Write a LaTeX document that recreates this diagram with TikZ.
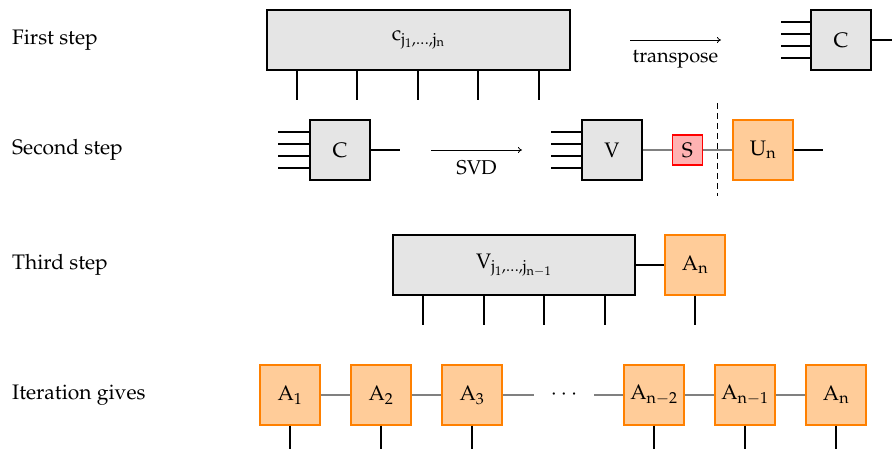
\documentclass[tikz,border=0pt]{standalone}
\usepackage[T1]{fontenc}
\usepackage{mathpazo}
\usetikzlibrary{arrows.meta}
\newcommand{\ur}[1]{\mathrm{#1}}
\tikzset{
  lbl/.style={anchor=west, inner sep=0pt, font=\fontsize{21}{25}\selectfont},
  boxfont/.style={font=\fontsize{21}{25}\selectfont},
  graybox/.style={draw=black, fill=gray!20, line width=1.2pt, inner sep=0pt, boxfont},
  orbox/.style={draw=orange, fill=orange!40, line width=1.2pt, inner sep=0pt, minimum size=60pt, boxfont},
  sbox/.style={draw=red, fill=red!30, line width=1.2pt, inner sep=0pt, minimum size=30pt, boxfont},
  sq/.style={minimum size=60pt},
  leg/.style={draw=black, line width=1.2pt},
  link/.style={draw=gray, line width=1.2pt},
  arr/.style={draw=black, line width=0.8pt, -{To[length=4pt,width=6pt]}},
  arrlbl/.style={font=\fontsize{20}{24}\selectfont, inner sep=3pt, yshift=-7pt}
}
\begin{document}
\begin{tikzpicture}[x=1pt,y=-1pt]
\useasboundingbox (0,0) rectangle (892,448);
% row labels
\node[lbl] (l1) at (12,40) {First step};
\node[lbl] (l2) at (12,150) {Second step};
\node[lbl] (l3) at (12,265) {Third step};
\node[lbl] (l4) at (12,395) {Iteration gives};

% ---- Row 1
\node[graybox, minimum width=303pt, minimum height=60pt] (cbig) at (418.5,40) {$\ur{c}_{\ur{j}_1,\dots,\ur{j}_{\ur{n}}}$};
\foreach \x [count=\i] in {297,357,418,478,539} {
  \coordinate (cl\i) at (\x,100);
  \draw[leg] (cl\i |- cbig.south) -- (cl\i);
}
\coordinate (ta) at (630,40);
\coordinate (tb) at (721,40);
\draw[arr] (ta) -- node[below, arrlbl] {transpose} (tb);
\node[graybox, sq] (C1) at (841,40) {C};
\foreach \dy [count=\i] in {-18,-6,6,18} {
  \coordinate (c1l\i) at (781,40+\dy);
  \draw[leg] (c1l\i) -- (c1l\i -| C1.west);
}
\coordinate (c1r) at (892,40);
\draw[leg] (C1.east) -- (c1r);

% ---- Row 2
\node[graybox, sq] (C2) at (340,150) {C};
\foreach \dy [count=\i] in {-18,-6,6,18} {
  \coordinate (c2l\i) at (278,150+\dy);
  \draw[leg] (c2l\i) -- (c2l\i -| C2.west);
}
\coordinate (c2r) at (400,150);
\draw[leg] (C2.east) -- (c2r);
\coordinate (sa) at (431,150);
\coordinate (sb) at (522,150);
\draw[arr] (sa) -- node[below, arrlbl] {SVD} (sb);
\node[graybox, sq] (V2) at (612,150) {V};
\foreach \dy [count=\i] in {-18,-6,6,18} {
  \coordinate (v2l\i) at (551,150+\dy);
  \draw[leg] (v2l\i) -- (v2l\i -| V2.west);
}
\node[sbox] (S) at (687.5,150) {S};
\node[orbox] (U) at (763,150) {$\ur{U}_{\ur{n}}$};
\draw[link] (V2.east) -- (S.west);
\draw[link] (S.east) -- (U.west);
\coordinate (ur) at (823,150);
\draw[leg] (U.east) -- (ur);
\coordinate (da) at (717,103);
\coordinate (db) at (717,196);
\draw[black, line width=1pt, dash pattern=on 6pt off 4pt] (da) -- (db);

% ---- Row 3
\node[graybox, minimum width=242pt, minimum height=60pt] (Vbig) at (514,265) {$\ur{V}_{\ur{j}_1,\dots,\ur{j}_{\ur{n}-1}}$};
\foreach \x [count=\i] in {423,484,544,605} {
  \coordinate (vl\i) at (\x,325);
  \draw[leg] (vl\i |- Vbig.south) -- (vl\i);
}
\node[orbox] (An3) at (695,265) {$\ur{A}_{\ur{n}}$};
\draw[leg] (Vbig.east) -- (An3.west);
\coordinate (an3l) at (695,325);
\draw[leg] (An3.south) -- (an3l);

% ---- Row 4
\node[orbox] (A1) at (290,395) {$\ur{A}_1$};
\node[orbox] (A2) at (381,395) {$\ur{A}_2$};
\node[orbox] (A3) at (472,395) {$\ur{A}_3$};
\node[inner sep=0pt, boxfont] (dots) at (564,395) {$\cdots$};
\node[orbox] (Am2) at (654,395) {$\ur{A}_{\ur{n}-2}$};
\node[orbox] (Am1) at (745,395) {$\ur{A}_{\ur{n}-1}$};
\node[orbox] (An) at (836,395) {$\ur{A}_{\ur{n}}$};
\draw[link] (A1.east) -- (A2.west);
\draw[link] (A2.east) -- (A3.west);
\coordinate (d1) at (534,395);
\coordinate (d2) at (594,395);
\draw[link] (A3.east) -- (d1);
\draw[link] (d2) -- (Am2.west);
\draw[link] (Am2.east) -- (Am1.west);
\draw[link] (Am1.east) -- (An.west);
\foreach \n in {A1,A2,A3,Am2,Am1,An} {
  \coordinate (\n b) at ([yshift=-30pt]\n.south);
  \draw[leg] (\n.south) -- (\n b);
}
\end{tikzpicture}
\end{document}
